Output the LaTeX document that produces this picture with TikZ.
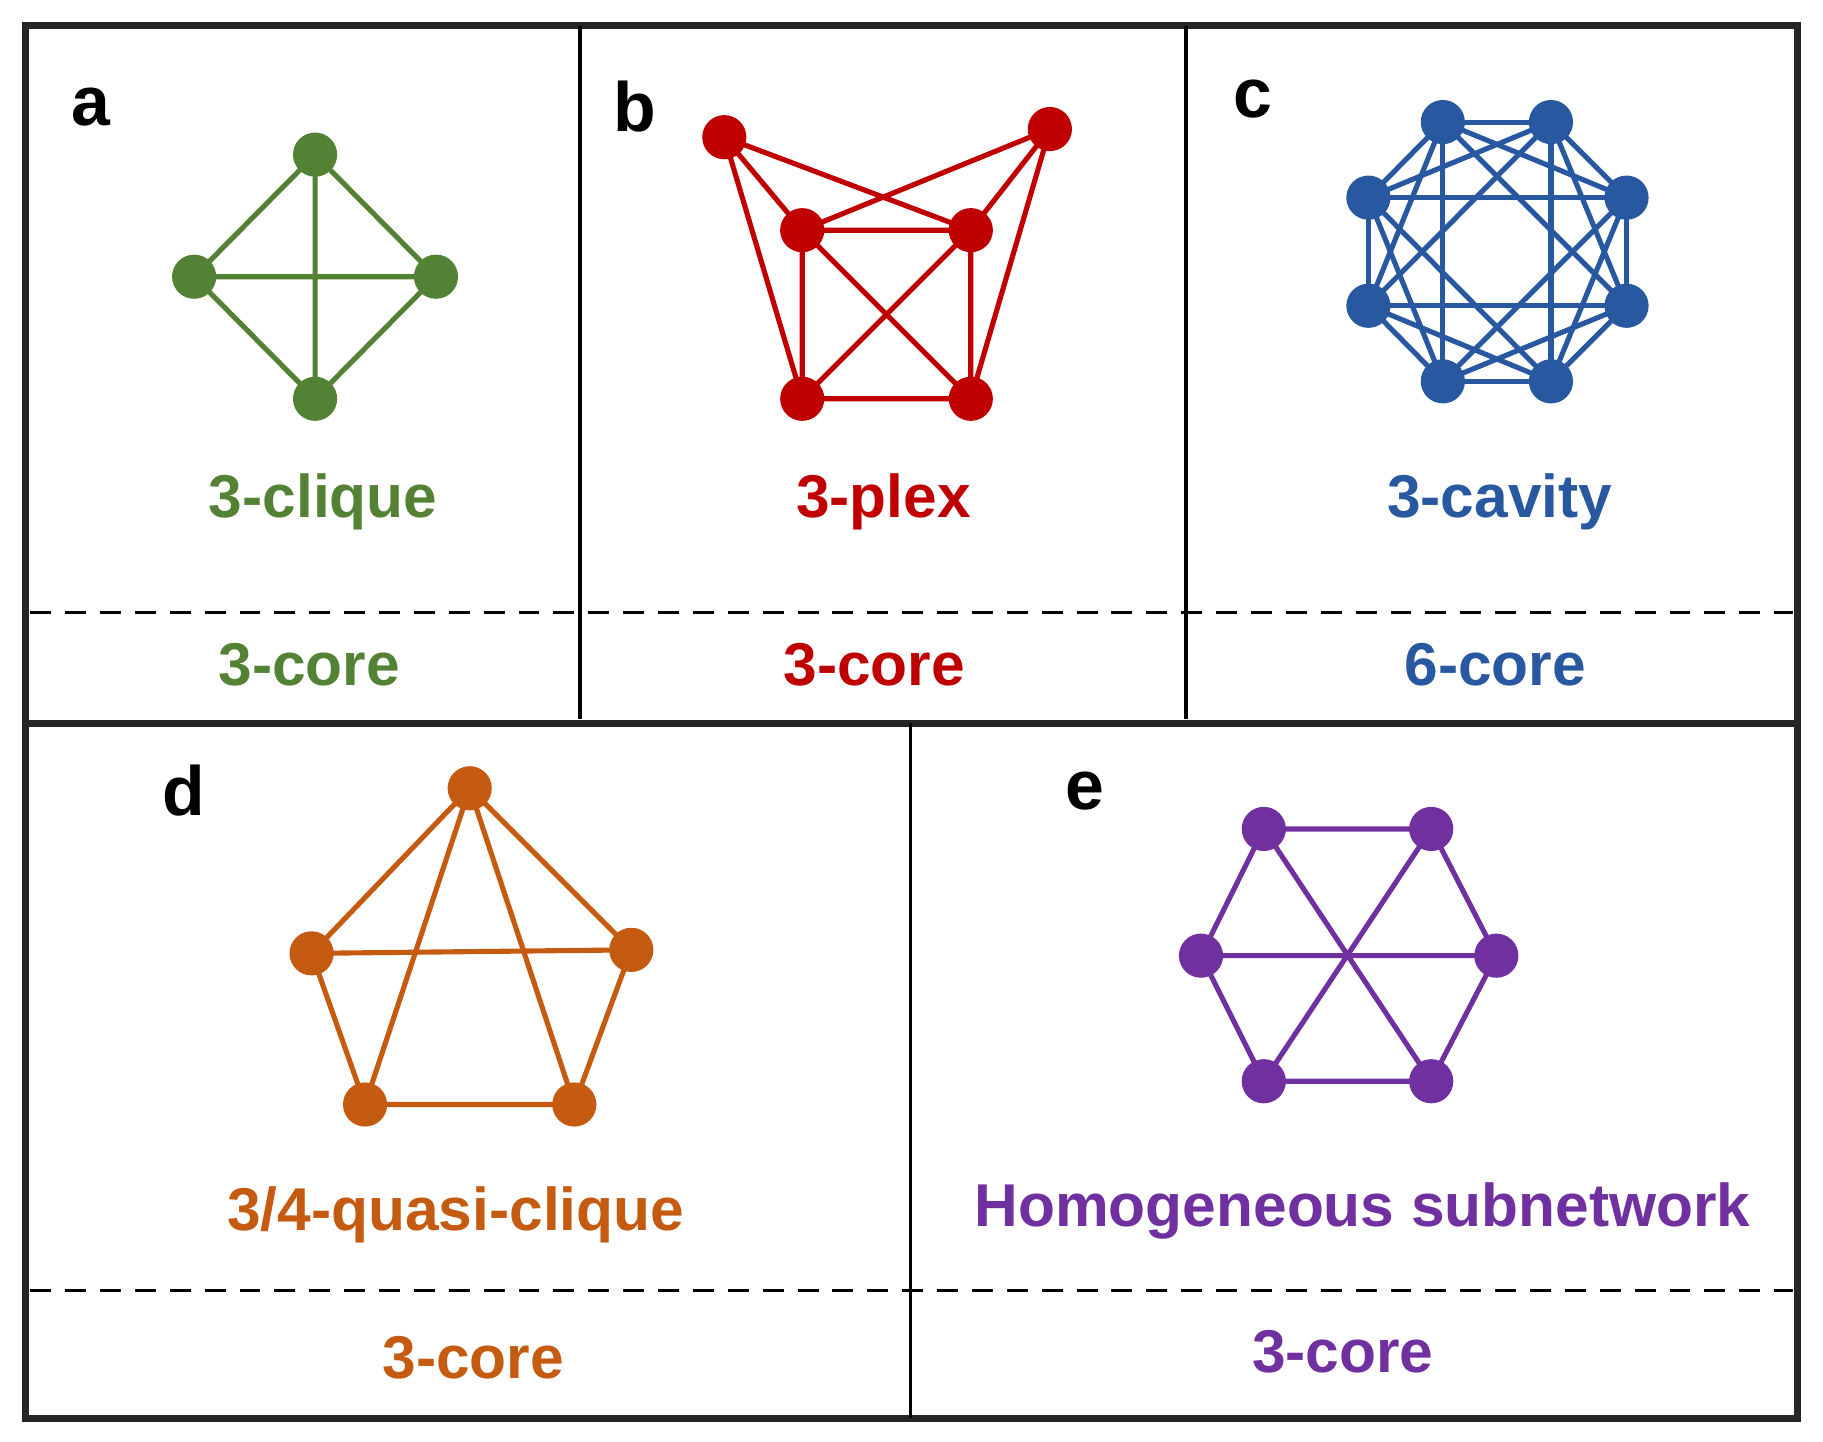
\documentclass[tikz,border=0pt]{standalone}
\usepackage{fontspec}
\setmainfont{Liberation Sans}
\begin{document}
\begin{tikzpicture}[x=0.5pt,y=-0.5pt,
  nd/.style={circle,fill=#1,inner sep=0pt,minimum size=19pt},
  ed/.style={draw=#1,line width=2.2pt},
  lab/.style={font=\fontsize{26}{30}\selectfont\bfseries,text=#1},
  let/.style={font=\fontsize{30}{34}\selectfont\bfseries},
  fr/.style={line width=3pt,draw=black!85},
  dsh/.style={line width=1.5pt,dash pattern=on 9pt off 6pt}]
\definecolor{cg}{HTML}{548235}
\definecolor{cr}{HTML}{C00000}
\definecolor{cb}{HTML}{2858A0}
\definecolor{co}{HTML}{C55A11}
\definecolor{cp}{HTML}{7030A0}
\useasboundingbox (0,0) rectangle (1568,1240);
\fill[white] (0,0) rectangle (1568,1240);
% frame
\draw[fr] (22,22) rectangle (1546,1220);
\draw[fr] (22,622) -- (1546,622);
\draw[line width=1.5pt] (499,22) -- (499,618) (1020,22) -- (1020,618) (783,622) -- (783,1220);
\draw[dsh] (26,527) -- (1542,527);
\draw[dsh] (26,1110) -- (1542,1110);
% letters
\node[let] at (78,92) {a};
\node[let] at (546,92) {b};
\node[let] at (1078,85) {c};
\node[let] at (158,680) {d};
\node[let] at (933,680) {e};
% a
\foreach \n/\x/\y in {a1/271/133,a2/167/238,a3/375/238,a4/271/343} \coordinate (\n) at (\x,\y);
\draw[ed=cg] (a1)--(a2)--(a4)--(a3)--(a1) (a1)--(a4) (a2)--(a3);
\foreach \n in {a1,a2,a3,a4} \node[nd=cg] at (\n) {};
\node[lab=cg] at (278,432) {3-clique};
\node[lab=cg] at (266,572) {3-core};
% b
\foreach \n/\x/\y in {b1/623/118,b2/903/111,b3/690/198,b4/835/198,b5/690/343,b6/835/343} \coordinate (\n) at (\x,\y);
\draw[ed=cr] (b1)--(b3) (b1)--(b4) (b1)--(b5) (b2)--(b3) (b2)--(b4) (b2)--(b6)
  (b3)--(b4)--(b6)--(b5)--(b3) (b3)--(b6) (b4)--(b5);
\foreach \n in {b1,b2,b3,b4,b5,b6} \node[nd=cr] at (\n) {};
\node[lab=cr] at (760,432) {3-plex};
\node[lab=cr] at (752,572) {3-core};
% c
\foreach \n/\x/\y in {1/1241/105,2/1334/105,3/1399/170,4/1399/263,5/1334/328,6/1241/328,7/1177/263,8/1177/170} \coordinate (c\n) at (\x,\y);
\foreach \i in {1,...,8}{\foreach \j in {1,...,8}{
  \pgfmathtruncatemacro\d{\j-\i}
  \ifnum\d>0 \ifnum\d=4 \else \draw[ed=cb] (c\i)--(c\j); \fi\fi}}
\foreach \i in {1,...,8} \node[nd=cb] at (c\i) {};
\node[lab=cb] at (1290,432) {3-cavity};
\node[lab=cb] at (1286,572) {6-core};
% d
\foreach \n/\x/\y in {d1/404/678,d2/268/820,d3/543/817,d4/314/950,d5/494/950} \coordinate (\n) at (\x,\y);
\draw[ed=co] (d1)--(d2) (d1)--(d3) (d1)--(d4) (d1)--(d5) (d2)--(d3) (d2)--(d4) (d3)--(d5) (d4)--(d5);
\foreach \n in {d1,d2,d3,d4,d5} \node[nd=co] at (\n) {};
\node[lab=co] at (392,1045) {3/4-quasi-clique};
\node[lab=co] at (407,1168) {3-core};
% e
\foreach \n/\x/\y in {e1/1087/713,e2/1231/713,e3/1287/822,e4/1231/930,e5/1087/930,e6/1033/822} \coordinate (\n) at (\x,\y);
\draw[ed=cp] (e1)--(e2)--(e3)--(e4)--(e5)--(e6)--(e1) (e1)--(e4) (e2)--(e5) (e3)--(e6);
\foreach \n in {e1,e2,e3,e4,e5,e6} \node[nd=cp] at (\n) {};
\node[lab=cp] at (1172,1042) {Homogeneous subnetwork};
\node[lab=cp] at (1155,1163) {3-core};
\end{tikzpicture}
\end{document}
